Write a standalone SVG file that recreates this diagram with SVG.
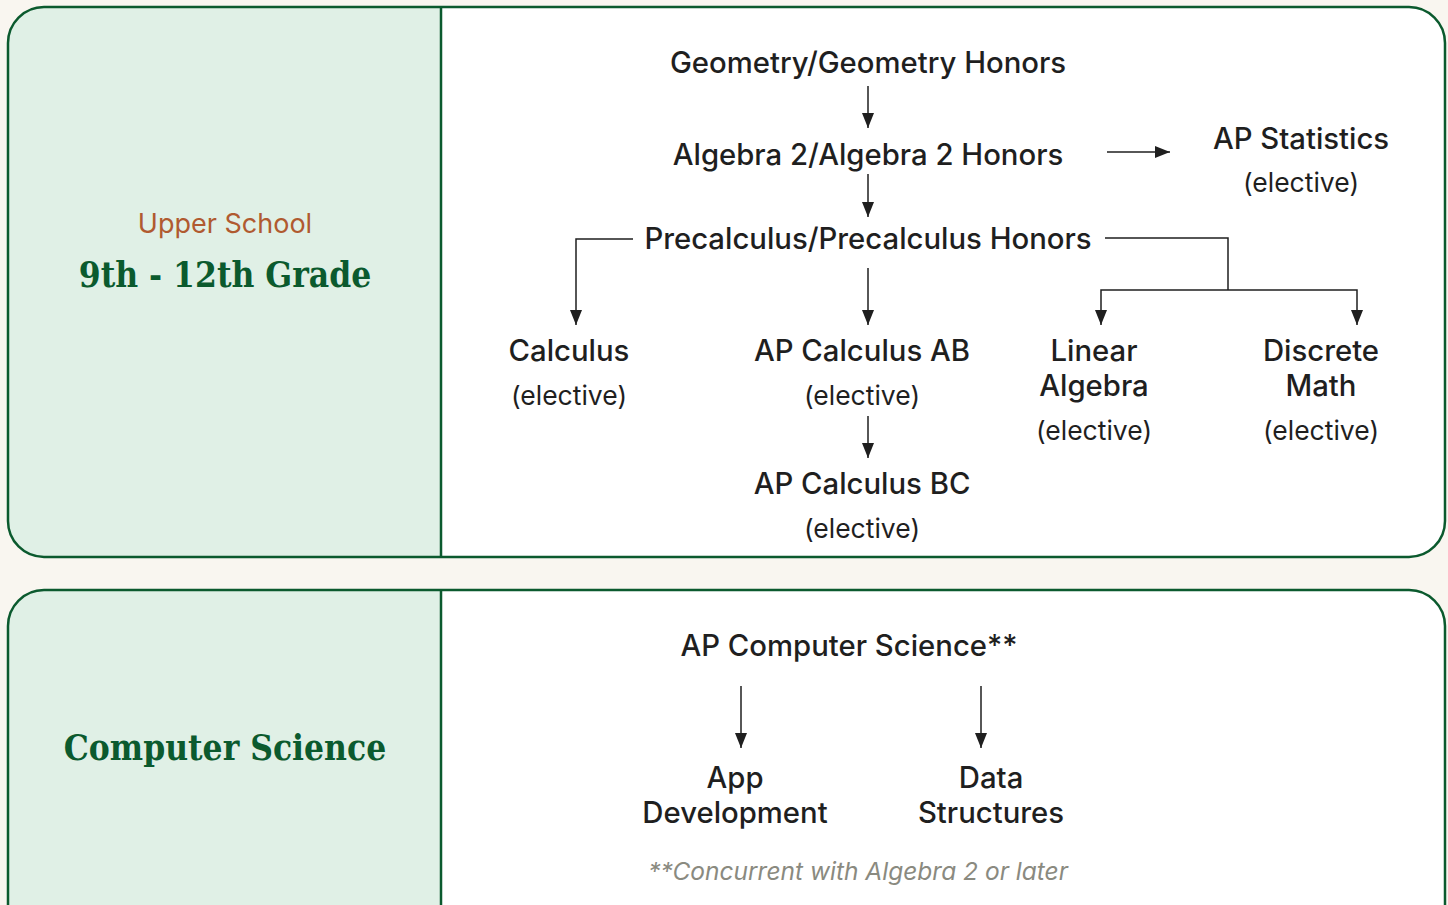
<svg xmlns="http://www.w3.org/2000/svg" width="1448" height="905" viewBox="0 0 1448 905">
<defs>
<style>
.t{font-family:Inter,"Noto Sans","Liberation Sans",sans-serif;fill:#1f1f1f;text-anchor:middle;font-size:29.3px;font-weight:500}
.e{font-size:26.5px;font-weight:400}
.h{font-family:"DejaVu Serif Condensed","DejaVu Serif","Liberation Serif",serif;font-weight:bold;fill:#0b5a2e;text-anchor:middle}
.c{stroke:#1f1f1f;stroke-width:1.5;fill:none}
.panel{stroke:#0b5a2e;stroke-width:2.5}
</style>
<marker id="ah" viewBox="0 0 15 12" refX="15" refY="6" markerWidth="15" markerHeight="12" markerUnits="userSpaceOnUse" orient="auto-start-reverse">
<path d="M0 0 L15 6 L0 12 Z" fill="#1f1f1f"/>
</marker>
<clipPath id="cp1"><rect x="8" y="7" width="1437" height="550" rx="36"/></clipPath>
<clipPath id="cp2"><rect x="8" y="590" width="1437" height="360" rx="36"/></clipPath>
</defs>
<rect width="1448" height="905" fill="#f9f6f0"/>
<g id="panel-upper">
<g clip-path="url(#cp1)">
<rect x="8" y="7" width="1437" height="550" fill="#ffffff"/>
<rect x="8" y="7" width="433" height="550" fill="#e0f0e6"/>
</g>
<rect class="panel" x="8" y="7" width="1437" height="550" rx="36" fill="none"/>
<line class="panel" x1="441" y1="7" x2="441" y2="557"/>
<text x="225" y="233" style="font-family:Inter,'Noto Sans','Liberation Sans',sans-serif;font-size:27px;fill:#b05a30;text-anchor:middle">Upper School</text>
<text class="h" x="225" y="287" style="font-size:35px">9th - 12th Grade</text>
</g>
<g id="panel-cs">
<g clip-path="url(#cp2)">
<rect x="8" y="590" width="1437" height="360" fill="#ffffff"/>
<rect x="8" y="590" width="433" height="360" fill="#e0f0e6"/>
</g>
<rect class="panel" x="8" y="590" width="1437" height="360" rx="36" fill="none"/>
<line class="panel" x1="441" y1="590" x2="441" y2="905"/>
<text class="h" x="225" y="760" style="font-size:35px">Computer Science</text>
</g>
<g id="n-geometry"><text class="t" x="868" y="73">Geometry/Geometry Honors</text></g>
<g id="n-algebra2"><text class="t" x="868" y="165">Algebra 2/Algebra 2 Honors</text></g>
<g id="n-apstats"><text class="t" x="1301" y="149">AP Statistics</text><text class="t e" x="1301" y="192">(elective)</text></g>
<g id="n-precalc"><text class="t" x="868" y="249">Precalculus/Precalculus Honors</text></g>
<g id="n-calculus"><text class="t" x="569" y="361">Calculus</text><text class="t e" x="569" y="405">(elective)</text></g>
<g id="n-apcalcab"><text class="t" x="862" y="361">AP Calculus AB</text><text class="t e" x="862" y="405">(elective)</text></g>
<g id="n-apcalcbc"><text class="t" x="862" y="494">AP Calculus BC</text><text class="t e" x="862" y="538">(elective)</text></g>
<g id="n-linalg"><text class="t" x="1094" y="361">Linear</text><text class="t" x="1094" y="396">Algebra</text><text class="t e" x="1094" y="440">(elective)</text></g>
<g id="n-discrete"><text class="t" x="1321" y="361">Discrete</text><text class="t" x="1321" y="396">Math</text><text class="t e" x="1321" y="440">(elective)</text></g>
<g id="n-apcs"><text class="t" x="849" y="656">AP Computer Science**</text></g>
<g id="n-appdev"><text class="t" x="735" y="788">App</text><text class="t" x="735" y="823">Development</text></g>
<g id="n-datastruct"><text class="t" x="991" y="788">Data</text><text class="t" x="991" y="823">Structures</text></g>
<g id="note"><text x="858" y="880" style="font-family:Inter,'Noto Sans','Liberation Sans',sans-serif;font-style:italic;font-size:24.5px;fill:#8a8a80;text-anchor:middle">**Concurrent with Algebra 2 or later</text></g>
<g id="connectors">
<line class="c" x1="868" y1="86" x2="868" y2="128" marker-end="url(#ah)"/>
<line class="c" x1="868" y1="174" x2="868" y2="217" marker-end="url(#ah)"/>
<line class="c" x1="1107" y1="152" x2="1170" y2="152" marker-end="url(#ah)"/>
<polyline class="c" points="633,239 576,239 576,325" marker-end="url(#ah)"/>
<line class="c" x1="868" y1="268" x2="868" y2="325" marker-end="url(#ah)"/>
<polyline class="c" points="1105,238 1228,238 1228,290"/>
<polyline class="c" points="1101,325 1101,290 1357,290 1357,325" marker-end="url(#ah)" marker-start="url(#ah)"/>
<line class="c" x1="868" y1="416" x2="868" y2="458" marker-end="url(#ah)"/>
<line class="c" x1="741" y1="686" x2="741" y2="748" marker-end="url(#ah)"/>
<line class="c" x1="981" y1="686" x2="981" y2="748" marker-end="url(#ah)"/>
</g>
</svg>
